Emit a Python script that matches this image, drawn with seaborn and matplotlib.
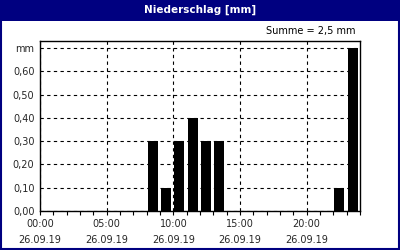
import matplotlib
matplotlib.use("Agg")
import matplotlib.pyplot as plt
import matplotlib.patches as mpatches
import seaborn as sns
import numpy as np

# Data: hourly precipitation (hour start) in mm
hours = [8, 9, 10, 11, 12, 13, 22, 23]
precip = [0.3, 0.1, 0.3, 0.4, 0.3, 0.3, 0.1, 0.7]
xtick_hours = [0, 5, 10, 15, 20]
xtick_labels = ["00:00\n26.09.19", "05:00\n26.09.19", "10:00\n26.09.19",
                "15:00\n26.09.19", "20:00\n26.09.19"]
ytick_vals = [0.0, 0.1, 0.2, 0.3, 0.4, 0.5, 0.6, 0.7]
ytick_labels = ["0,00", "0,10", "0,20", "0,30", "0,40", "0,50", "0,60", "mm"]
title = "Niederschlag [mm]"

sns.set_style("white")
plt.rcParams['font.family'] = ['DejaVu Sans']

navy = "#000080"
fig = plt.figure(figsize=(4, 2.5), dpi=100)
fig.patch.set_facecolor("white")

# title bar and border
fig.add_artist(mpatches.Rectangle((0, 0.918), 1, 0.082, transform=fig.transFigure,
                                  facecolor=navy, edgecolor="none", zorder=0))
fig.add_artist(mpatches.Rectangle((0.0025, 0.004), 0.995, 0.99, transform=fig.transFigure,
                                  facecolor="none", edgecolor=navy, linewidth=1.5, zorder=0))
fig.text(0.5, 0.959, title, color="white", fontsize=7.5, fontweight="bold",
         ha="center", va="center")
total = sum(precip)
fig.text(0.888, 0.876, f"Summe = {total:.1f} mm".replace(".", ","), fontsize=7,
         ha="right", va="center", color="black")

ax = fig.add_axes([0.1, 0.156, 0.8, 0.68])
centers = [h + 0.45 for h in hours]
sns.barplot(x=centers, y=precip, native_scale=True, width=0.75, color="black",
            saturation=1, ax=ax, edgecolor="none", zorder=3)

ax.set_xlim(0, 24)
ax.set_ylim(0, 0.73)
ax.set_xticks(xtick_hours)
ax.set_xticklabels(xtick_labels, fontsize=7, linespacing=1.75)
ax.set_xticks(range(0, 25), minor=True)
ax.set_yticks(ytick_vals)
ax.set_yticklabels(ytick_labels, fontsize=7)
ax.tick_params(axis="x", which="both", direction="out", length=3, width=0.8,
               color="black", bottom=True, pad=3)
ax.tick_params(axis="y", length=0, pad=4)
ax.grid(True, which="major", color="black", linestyle=(0, (3, 3)), linewidth=0.8)
ax.set_axisbelow(True)
for s in ax.spines.values():
    s.set_color("black")
    s.set_linewidth(1)
ax.set_xlabel("")
ax.set_ylabel("")

fig.savefig("out.png", dpi=100)
